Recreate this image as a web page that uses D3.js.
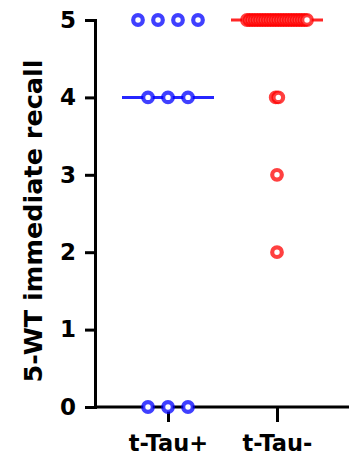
<!DOCTYPE html>
<html>
<head>
<meta charset="utf-8">
<script src="https://cdn.jsdelivr.net/npm/d3@7"></script>
<style>
    body { margin: 0; background: #fff; }
    svg text { font-family: "DejaVu Sans", "Liberation Sans", Arial, sans-serif; font-weight: bold; fill: #000; }
</style>
</head>
<body>
<div id="chart"></div>
<script>
// recall scores per group (5-WT immediate recall)
const groups = ['t-Tau+', 't-Tau-'];
const tauPos = [5, 5, 5, 5, 4, 4, 4, 0, 0, 0];
const tauNeg = [5, 5, 5, 5, 5, 5, 5, 5, 5, 5, 5, 5, 5, 5, 5, 5, 5, 5, 5, 5, 5, 5, 5, 5, 4, 4, 3, 2];
const yTicks = [0, 1, 2, 3, 4, 5];
const colors = ['#0000ff', '#ff0000'];

const width = 349, height = 461;
const margin = {top: 20, right: 0, bottom: 54, left: 95};

const svg = d3.select('#chart').append('svg')
    .attr('width', width)
    .attr('height', height);

const y = d3.scaleLinear().domain([0, 5]).range([height - margin.bottom, margin.top]);
const x = d3.scalePoint().domain(groups).range([168, 277]);

// dots spread sideways inside this half width, like a prism scatter plot
const maxSpread = 30;
const dotR = 4.8;

function layout(values, name) {
    const counts = d3.rollup(values, v => v.length, v => v);
    const maxN = d3.max(counts.values());
    const step = maxN > 1 ? Math.min(20, 2 * maxSpread / (maxN - 1)) : 0;
    const pts = [];
    counts.forEach((n, v) => {
        for (let i = 0; i < n; i++) {
            pts.push({group: name, value: v, dx: (i - (n - 1) / 2) * step});
        }
    });
    return pts;
}

const series = [tauPos, tauNeg];

// median lines
series.forEach((vals, i) => {
    svg.append('line')
        .attr('x1', x(groups[i]) - 46)
        .attr('x2', x(groups[i]) + 46)
        .attr('y1', y(d3.median(vals)))
        .attr('y2', y(d3.median(vals)))
        .attr('stroke', colors[i])
        .attr('stroke-opacity', 0.85)
        .attr('stroke-width', 3);
});

// axes
const yAxis = svg.append('g')
    .attr('transform', 'translate(' + margin.left + ',0)')
    .call(d3.axisLeft(y).tickValues(yTicks).tickSize(10).tickPadding(9).tickFormat(d3.format('d')));

const xAxis = svg.append('g')
    .attr('transform', 'translate(0,' + y(0) + ')')
    .call(d3.axisBottom(x).tickSize(15).tickPadding(13));

xAxis.select('.domain').attr('d', 'M' + margin.left + ',0H' + width);

[yAxis, xAxis].forEach(a => {
    a.select('.domain').attr('stroke', '#000').attr('stroke-width', 3);
    a.selectAll('.tick line').attr('stroke', '#000').attr('stroke-width', 3);
});

yAxis.selectAll('.tick text').attr('font-size', 23);
xAxis.selectAll('.tick text').attr('font-size', 22.5);

// points
series.forEach((vals, i) => {
    svg.append('g')
        .selectAll('circle')
        .data(layout(vals, groups[i]))
        .join('circle')
        .attr('cx', d => x(d.group) + d.dx)
        .attr('cy', d => y(d.value))
        .attr('r', dotR)
        .attr('fill', '#fff')
        .attr('stroke', colors[i])
        .attr('stroke-opacity', 0.75)
        .attr('stroke-width', 4.2);
});

svg.append('text')
    .attr('transform', 'translate(42,221) rotate(-90)')
    .attr('text-anchor', 'middle')
    .attr('font-size', 25.5)
    .text('5-WT immediate recall');
</script>
</body>
</html>
